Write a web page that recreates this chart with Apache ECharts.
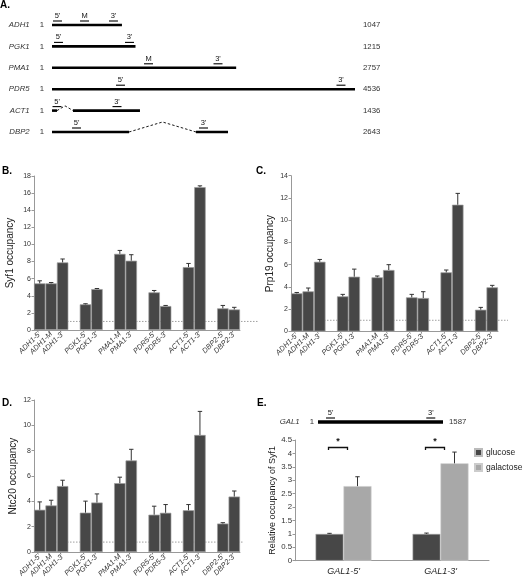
<!DOCTYPE html>
<html><head><meta charset="utf-8">
<script src="https://cdn.jsdelivr.net/npm/echarts@6/dist/echarts.min.js"></script>
<style>html,body{margin:0;padding:0;background:#fff}#c{width:526px;height:580px}</style>
</head><body><div id="c"></div>
<script>
// ---------- Panel A: gene maps ----------
const geneNames = ['ADH1','PGK1','PMA1','PDR5','ACT1','DBP2'];
const geneLengths = ['1047','1215','2757','4536','1436','2643'];
const geneStart = '1';
const geneScaleMax = 4536;
const geneExons = [[[0,1047]],[[0,1250]],[[0,2757]],[[0,4536]],[[0,75],[314,1317]],[[0,1153],[2156,2635]]];
const geneMarkers = [
  [["5'",82],['M',487],["3'",920]],
  [["5'",97],["3'",1160]],
  [['M',1445],["3'",2485]],
  [["5'",1025],["3'",4326]],
  [["5'",75],["3'",973]],
  [["5'",367],["3'",2268]]
];
// GAL1 map (panel E)
const gal1Names = ['GAL1'];
const gal1Lengths = ['1587'];
const gal1ScaleMax = 1587;
const gal1Exons = [[[0,1587]]];
const gal1Markers = [[["5'",159],["3'",1432]]];

// ---------- Panels B, C, D ----------
const occCategories = ["ADH1-5'","ADH1-M","ADH1-3'","","PGK1-5'","PGK1-3'","","PMA1-M","PMA1-3'","","PDR5-5'","PDR5-3'","","ACT1-5'","ACT1-3'","","DBP2-5'","DBP2-3'"];
const syf1Values = [5.45,5.45,7.9,null,3.0,4.78,null,8.9,8.1,null,4.4,2.8,null,7.35,16.7,null,2.53,2.4];
const syf1ErrTop = [5.75,5.55,8.3,null,3.07,4.85,null,9.3,8.8,null,4.62,2.87,null,7.78,16.85,null,2.87,2.65];
const prp19Values = [3.42,3.6,6.26,null,3.15,4.92,null,4.86,5.52,null,3.06,3.0,null,5.31,11.39,null,1.95,3.96];
const prp19ErrTop = [3.5,3.9,6.47,null,3.33,5.6,null,4.98,6.0,null,3.33,3.57,null,5.52,12.41,null,2.16,4.14];
const ntc20Values = [3.34,3.68,5.21,null,3.11,3.91,null,5.44,7.23,null,2.95,3.1,null,3.3,9.24,null,2.25,4.38];
const ntc20ErrTop = [3.96,4.09,5.67,null,4.02,4.59,null,5.91,8.11,null,3.62,3.75,null,3.75,11.1,null,2.32,4.82];
const backgroundLevel = 1;

// ---------- Panel E ----------
const eCategories = ["GAL1-5'","GAL1-3'"];
const eSeriesNames = ['glucose','galactose'];
const glucoseValues = [1.0,1.0];
const glucoseErrTop = [1.02,1.03];
const galactoseValues = [2.78,3.63];
const galactoseErrTop = [3.13,4.05];
const sigLevel = [4.22,4.22];
const sigMark = ['*','*'];

const FONT = '"Liberation Sans", Arial, sans-serif';
const DARK = '#474747', LIGHT = '#a8a8a8';

function geneRenderer(exonsList, markersList, lw){
  return function(params, api){
    const r = params.dataIndex;
    const exons = exonsList[r], markers = markersList[r];
    const yc = api.coord([0, r])[1];
    const ch = [];
    exons.forEach((e, k) => {
      const x1 = api.coord([e[0], r])[0], x2 = api.coord([e[1], r])[0];
      ch.push({type:'line', shape:{x1, y1:yc, x2, y2:yc}, style:{stroke:'#000', lineWidth:lw}});
      if (k < exons.length - 1) {
        const nx = api.coord([exons[k+1][0], r])[0];
        const h = Math.min(10, (nx - x2) * 0.3);
        ch.push({type:'polyline', shape:{points:[[x2,yc],[(x2+nx)/2,yc-h],[nx,yc]]},
          style:{stroke:'#000', lineWidth:0.9, lineDash:[2.5,2], fill:null}});
      }
    });
    markers.forEach(m => {
      const cx = api.coord([m[1], r])[0];
      ch.push({type:'line', shape:{x1:cx-4.5, y1:yc-4, x2:cx+4.5, y2:yc-4}, style:{stroke:'#000', lineWidth:1.1}});
      ch.push({type:'text', style:{text:m[0], x:cx, y:yc-5, align:'center', verticalAlign:'bottom',
        font:'7.5px ' + FONT, fill:'#111'}});
    });
    return {type:'group', children:ch};
  };
}

function errRenderer(items, offset){
  return function(params, api){
    const d = items[params.dataIndex];
    const p1 = api.coord([d[0], d[1]]), p2 = api.coord([d[0], d[2]]);
    const x = p1[0] + (offset || 0);
    return {type:'group', children:[
      {type:'line', shape:{x1:x, y1:p1[1], x2:x, y2:p2[1]}, style:{stroke:'#333', lineWidth:1}},
      {type:'line', shape:{x1:x-2.2, y1:p2[1], x2:x+2.2, y2:p2[1]}, style:{stroke:'#333', lineWidth:1}}
    ]};
  };
}

const grids = [
  {left:52, width:303, top:14.3, height:128.4},   // 0 A
  {left:34, width:206, top:176, height:154},      // 1 B
  {left:291, width:207, top:175.7, height:155.7}, // 2 C
  {left:34, width:206, top:400, height:155},      // 3 D
  {left:318, width:125, top:412, height:20},      // 4 GAL1 map
  {left:295, width:194, top:440, height:120.7},   // 5 E
  {left:34, width:225, top:176, height:154},      // 6 B background line
  {left:291, width:217, top:175.7, height:155.7}, // 7 C background line
  {left:34, width:209, top:400, height:155}       // 8 D background line
];

const xAxes = [], yAxes = [], series = [];

// Panel A axes
xAxes.push({gridIndex:0, type:'value', min:0, max:geneScaleMax, show:false});
yAxes.push({gridIndex:0, type:'category', data:geneNames, inverse:true, axisLine:{show:false}, axisTick:{show:false},
  axisLabel:{margin:8, formatter:v => '{n|' + v + '}   {o|' + geneStart + '}',
    rich:{n:{fontStyle:'italic', fontSize:7.8, color:'#333', fontFamily:FONT}, o:{fontSize:7.8, color:'#333', fontFamily:FONT}}}});
yAxes.push({gridIndex:0, type:'category', data:geneLengths, inverse:true, position:'right', axisLine:{show:false}, axisTick:{show:false},
  axisLabel:{margin:8, fontSize:7.8, color:'#333', fontFamily:FONT}});
series.push({type:'custom', xAxisIndex:0, yAxisIndex:0, silent:true, clip:false,
  data:geneNames.map((n,i) => [0,i]), encode:{x:0, y:1}, renderItem:geneRenderer(geneExons, geneMarkers, 2.6)});

function occPanel(gi, bgGi, values, errTop, yMax, name, nameGap){
  const xi = xAxes.length, yi = yAxes.length;
  xAxes.push({gridIndex:gi, type:'category', data:occCategories, axisTick:{show:false},
    axisLine:{lineStyle:{color:'#999', width:1}},
    axisLabel:{interval:0, rotate:45, margin:3, fontSize:7.4, fontStyle:'italic', color:'#333', fontFamily:FONT}});
  yAxes.push({gridIndex:gi, type:'value', min:0, max:yMax, interval:2, splitLine:{show:false},
    axisLine:{show:true, lineStyle:{color:'#999'}}, axisTick:{show:true, length:2.5, lineStyle:{color:'#999'}},
    axisLabel:{margin:3, fontSize:7, color:'#333', fontFamily:FONT},
    name:name, nameLocation:'middle', nameRotate:90, nameGap:nameGap,
    nameTextStyle:{fontSize:10, color:'#222', fontFamily:FONT}});
  series.push({type:'bar', xAxisIndex:xi, yAxisIndex:yi, z:3, barCategoryGap:'0%', silent:true,
    data:values.map(v => v == null ? '-' : v),
    itemStyle:{color:DARK, borderColor:'#9c9c9c', borderWidth:0.7}});
  const items = [];
  values.forEach((v,i) => { if (v != null) items.push([i, v, errTop[i]]); });
  series.push({type:'custom', xAxisIndex:xi, yAxisIndex:yi, z:4, silent:true, clip:false,
    data:items.map(d => [d[0], d[2]]), encode:{x:0, y:1}, renderItem:errRenderer(items, 0)});
  // background (non-specific) level, dotted, spanning a little past the last bar
  const bxi = xAxes.length, byi = yAxes.length;
  xAxes.push({gridIndex:bgGi, type:'value', min:0, max:1, show:false});
  yAxes.push({gridIndex:bgGi, type:'value', min:0, max:yMax, show:false});
  series.push({type:'line', xAxisIndex:bxi, yAxisIndex:byi, z:1, silent:true, symbol:'none',
    data:[[0, backgroundLevel],[1, backgroundLevel]],
    lineStyle:{type:[1.5,1.5], color:'#888', width:0.8}});
}
occPanel(1, 6, syf1Values, syf1ErrTop, 18, 'Syf1 occupancy', 19);
occPanel(2, 7, prp19Values, prp19ErrTop, 14, 'Prp19 occupancy', 16);
occPanel(3, 8, ntc20Values, ntc20ErrTop, 12, 'Ntc20 occupancy', 16);

// GAL1 map
const gxi = xAxes.length, gyi = yAxes.length;
xAxes.push({gridIndex:4, type:'value', min:0, max:gal1ScaleMax, show:false});
yAxes.push({gridIndex:4, type:'category', data:gal1Names, inverse:true, axisLine:{show:false}, axisTick:{show:false},
  axisLabel:{margin:4, formatter:v => '{n|' + v + '}   {o|' + geneStart + '}',
    rich:{n:{fontStyle:'italic', fontSize:7.8, color:'#333', fontFamily:FONT}, o:{fontSize:7.8, color:'#333', fontFamily:FONT}}}});
yAxes.push({gridIndex:4, type:'category', data:gal1Lengths, inverse:true, position:'right', axisLine:{show:false}, axisTick:{show:false},
  axisLabel:{margin:6, fontSize:7.8, color:'#333', fontFamily:FONT}});
series.push({type:'custom', xAxisIndex:gxi, yAxisIndex:gyi, silent:true, clip:false,
  data:gal1Names.map((n,i) => [0,i]), encode:{x:0, y:1}, renderItem:geneRenderer(gal1Exons, gal1Markers, 3.4)});

// Panel E
const exi = xAxes.length, eyi = yAxes.length;
xAxes.push({gridIndex:5, type:'category', data:eCategories, axisTick:{show:false},
  axisLine:{lineStyle:{color:'#999'}},
  axisLabel:{margin:6, fontSize:9, fontStyle:'italic', color:'#222', fontFamily:FONT}});
yAxes.push({gridIndex:5, type:'value', min:0, max:4.5, interval:0.5, splitLine:{show:false},
  axisLine:{show:true, lineStyle:{color:'#999'}}, axisTick:{show:true, length:2.5, lineStyle:{color:'#999'}},
  axisLabel:{margin:3, fontSize:7.8, color:'#333', fontFamily:FONT},
  name:'Relative occupancy of Syf1', nameLocation:'middle', nameRotate:90, nameGap:17,
  nameTextStyle:{fontSize:9, color:'#222', fontFamily:FONT}});
series.push({name:eSeriesNames[0], type:'bar', xAxisIndex:exi, yAxisIndex:eyi, barWidth:28, barGap:'0%', silent:true,
  data:glucoseValues, itemStyle:{color:DARK, borderColor:'#bbb', borderWidth:0.6}});
series.push({name:eSeriesNames[1], type:'bar', xAxisIndex:exi, yAxisIndex:eyi, barWidth:28, barGap:'0%', silent:true,
  data:galactoseValues, itemStyle:{color:LIGHT, borderColor:'#ccc', borderWidth:0.6}});
const gItems = glucoseValues.map((v,i) => [i, v, glucoseErrTop[i]]);
const aItems = galactoseValues.map((v,i) => [i, v, galactoseErrTop[i]]);
series.push({type:'custom', xAxisIndex:exi, yAxisIndex:eyi, z:4, silent:true, clip:false,
  data:gItems.map(d => [d[0], d[2]]), encode:{x:0, y:1}, renderItem:errRenderer(gItems, -14)});
series.push({type:'custom', xAxisIndex:exi, yAxisIndex:eyi, z:4, silent:true, clip:false,
  data:aItems.map(d => [d[0], d[2]]), encode:{x:0, y:1}, renderItem:errRenderer(aItems, 14)});
series.push({type:'custom', xAxisIndex:exi, yAxisIndex:eyi, z:4, silent:true, clip:false,
  data:sigLevel.map((v,i) => [i, v]), encode:{x:0, y:1},
  renderItem:function(params, api){
    const i = params.dataIndex;
    const p = api.coord([i, sigLevel[i]]);
    const x1 = p[0] - 15, x2 = p[0] + 4, y = p[1];
    return {type:'group', children:[
      {type:'polyline', shape:{points:[[x1,y+2.5],[x1,y],[x2,y],[x2,y+2.5]]}, style:{stroke:'#111', lineWidth:1.3, fill:null}},
      {type:'text', style:{text:sigMark[i], x:(x1+x2)/2, y:y-1, align:'center', verticalAlign:'bottom', font:'bold 9px ' + FONT, fill:'#111'}}
    ]};
  }});

const titleStyle = {fontSize:10, fontWeight:'bold', color:'#000', fontFamily:FONT};
const option = {
  backgroundColor:'#fff',
  animation:false,
  title:[
    {text:'A.', left:0, top:0, padding:0, textStyle:titleStyle},
    {text:'B.', left:2, top:166, padding:0, textStyle:titleStyle},
    {text:'C.', left:256, top:166, padding:0, textStyle:titleStyle},
    {text:'D.', left:2, top:398, padding:0, textStyle:titleStyle},
    {text:'E.', left:257, top:398, padding:0, textStyle:titleStyle}
  ],
  legend:{data:eSeriesNames, orient:'vertical', left:469, top:443, itemWidth:7, itemHeight:7, itemGap:6,
    icon:'rect', selectedMode:false, textStyle:{fontSize:8.5, color:'#222', fontFamily:FONT, padding:[0,0,0,-1]}},
  grid:grids,
  xAxis:xAxes,
  yAxis:yAxes,
  series:series
};
const chart = echarts.init(document.getElementById('c'), null, {width:526, height:580});
chart.setOption(option);
</script>
</body></html>
